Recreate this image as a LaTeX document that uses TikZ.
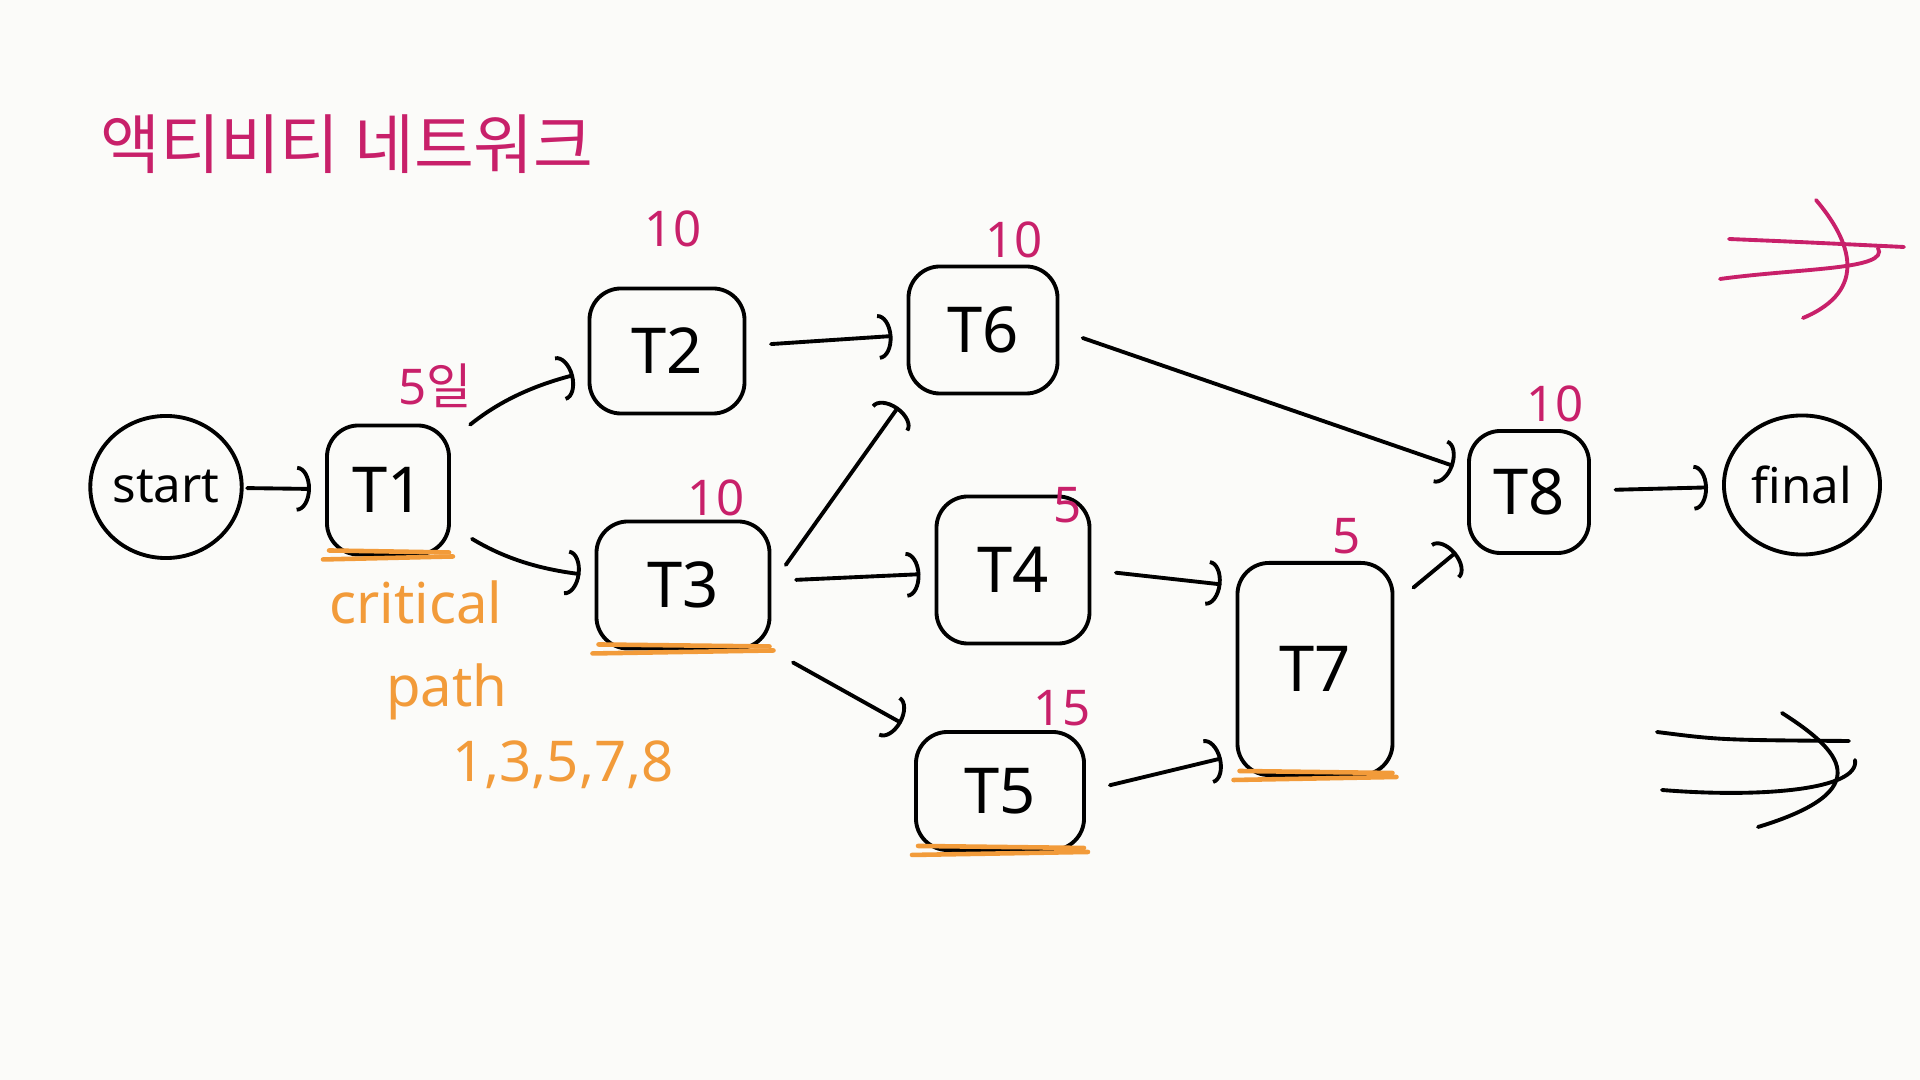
\documentclass[tikz,border=0pt]{standalone}
\usepackage{fontspec}
\setmainfont{Noto Sans}
\newfontfamily\krfont{Noto Sans CJK KR}
\usepackage{xcolor}
\usepackage{tikz}
\usetikzlibrary{arrows.meta,positioning,shapes.geometric,calc}
\definecolor{penpink}{HTML}{C8206A}
\definecolor{penorange}{HTML}{F29B3A}
\definecolor{paper}{HTML}{FBFBF9}

\begin{document}
\begin{tikzpicture}[x=0.01cm,y=-0.01cm,line width=1.1pt,line cap=round,
  every node/.style={font=\fontsize{18}{22}\selectfont},
  task/.style={draw,rounded corners=9pt,inner sep=0pt},
  term/.style={draw,ellipse,inner sep=0pt,font=\fontsize{14}{17}\selectfont},
  conn/.style={-{Arc Barb[length=4pt,width=13pt]},shorten >=4pt,shorten <=7pt},
  dur/.style={text=penpink,font=\fontsize{14}{17}\selectfont},
  critnote/.style={text=penorange,font=\fontsize{16}{20}\selectfont},
  crit/.style={draw=penorange,line width=1.3pt}]
  \fill[paper] (0,0) rectangle (1920,1080);

  % title
  \node[text=penpink,font={\krfont\fontsize{18.5}{22}\selectfont}] (title) at (347,144) {액티비티 네트워크};

  % activities
  \node[term,minimum width=1.51cm,minimum height=1.42cm] (start) at (166,487) {start};
  \node[task,minimum width=1.22cm,minimum height=1.29cm] (t1) at (388,490) {T1};
  \node[task,minimum width=1.55cm,minimum height=1.25cm] (t2) at (667,351) {T2};
  \node[task,minimum width=1.73cm,minimum height=1.27cm] (t3) at (683,585) {T3};
  \node[task,minimum width=1.49cm,minimum height=1.27cm] (t6) at (983,330) {T6};
  \node[task,minimum width=1.53cm,minimum height=1.47cm] (t4) at (1013,570) {T4};
  \node[task,minimum width=1.68cm,minimum height=1.18cm] (t5) at (1000,791) {T5};
  \node[task,minimum width=1.55cm,minimum height=2.12cm] (t7) at (1315,669) {T7};
  \node[task,minimum width=1.20cm,minimum height=1.22cm] (t8) at (1529,492) {T8};
  \node[term,minimum width=1.56cm,minimum height=1.39cm] (final) at (1802,485) {final};

  % durations
  \node[dur] (d1) at (435,386) {5\krfont 일};
  \node[dur] (d2) at (673,229) {10};
  \node[dur] (d3) at (716,498) {10};
  \node[dur] (d6) at (1014,240) {10};
  \node[dur] (d4) at (1068,505) {5};
  \node[dur] (d5) at (1062,708) {15};
  \node[dur] (d7) at (1347,536) {5};
  \node[dur] (d8) at (1555,404) {10};

  % dependencies
  \draw[conn,shorten <=1pt] (start) -- (t1);
  \draw[conn] (t1) to[bend left=12] (t2);
  \draw[conn] (t1) to[bend right=12] (t3);
  \draw[conn] (t2) -- (t6);
  \draw[conn] (t3.east) -- (t6.south west);
  \draw[conn] (t3) -- (t4);
  \draw[conn] (t3.south east) -- (t5.north west);
  \draw[conn] (t4.east) -- ($(t7.north west)+(0,25)$);
  \draw[conn] (t5.east) -- ($(t7.south west)+(0,-22)$);
  \draw[conn] (t6.east) -- (t8);
  \draw[conn] (t7) -- (t8);
  \draw[conn] (t8) -- (final);

  % critical path marks
  \foreach \t in {t1,t3,t5,t7} {
    \draw[crit] ([shift={(4,-6)}]\t.south west) -- ([shift={(-2,-4)}]\t.south east);
    \draw[crit] ([shift={(-2,3)}]\t.south west) -- ([shift={(2,0)}]\t.south east);
  }
  \node[critnote] (critlbl) at (416,602) {critical};
  \node[critnote] (pathlbl) at (447,692) {path};
  \node[critnote] (critseq) at (563,765) {1,3,5,7,8};

  % arrows on the right
  \draw[penpink] (1729,239) .. controls (1800,242) .. (1904,247);
  \draw[penpink] (1720,279) .. controls (1800,268) and (1890,270) .. (1878,248);
  \draw[penpink] (1816,200) .. controls (1850,240) and (1870,290) .. (1803,318);
  \draw (1657,732) .. controls (1720,740) .. (1849,741);
  \draw (1662,790) .. controls (1760,798) and (1860,790) .. (1855,760);
  \draw (1782,713) .. controls (1840,750) and (1880,790) .. (1758,827);
\end{tikzpicture}
\end{document}
